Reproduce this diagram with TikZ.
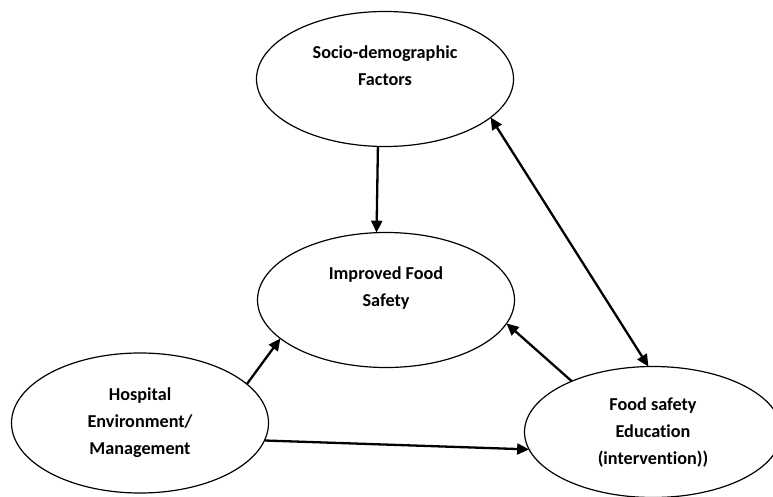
\documentclass[tikz,border=0pt]{standalone}
\usepackage{fontspec}
\setmainfont{Carlito}[Ligatures=NoCommon]
\usetikzlibrary{shapes.geometric,arrows.meta}

\begin{document}
\begin{tikzpicture}[x=1pt,y=-1pt]
         \tikzset{factor/.style={ellipse,draw,line width=1.2pt,outer sep=0pt,inner sep=0pt,
           minimum width=257pt,minimum height=135pt,align=center,
           font=\fontsize{18.2}{27}\selectfont\bfseries}}
         \tikzset{link/.style={line width=2.3pt,-{Triangle[length=12pt,width=11pt]}}}
         \tikzset{twoway/.style={line width=2.3pt,{Triangle[length=12pt,width=11pt]}-{Triangle[length=12pt,width=11pt]}}}
         \useasboundingbox (0,0) rectangle (773,497);
         \node[factor] (socio) at (385,79) {Socio-demographic\\Factors\\\mbox{}};
         \node[factor] (improved) at (386,300) {Improved Food\\Safety\\\mbox{}};
         \node[factor,minimum height=140pt] (hospital) at (140,423) {Hospital\\Environment/\\Management};
         \node[factor,minimum height=131pt] (education) at (653,432) {Food safety\\Education\\(intervention))};
         \draw[link] (socio.-96.8) -- (improved.98.5);
         \draw[link] (hospital.20.3) -- (improved.-160.8);
         \draw[link] (hospital.-8.9) -- (education.188);
         \draw[link] (education.148.8) -- (improved.-11.7);
         \draw[twoway] (socio.-20.9) -- (education.94.4);
\end{tikzpicture}
\end{document}
